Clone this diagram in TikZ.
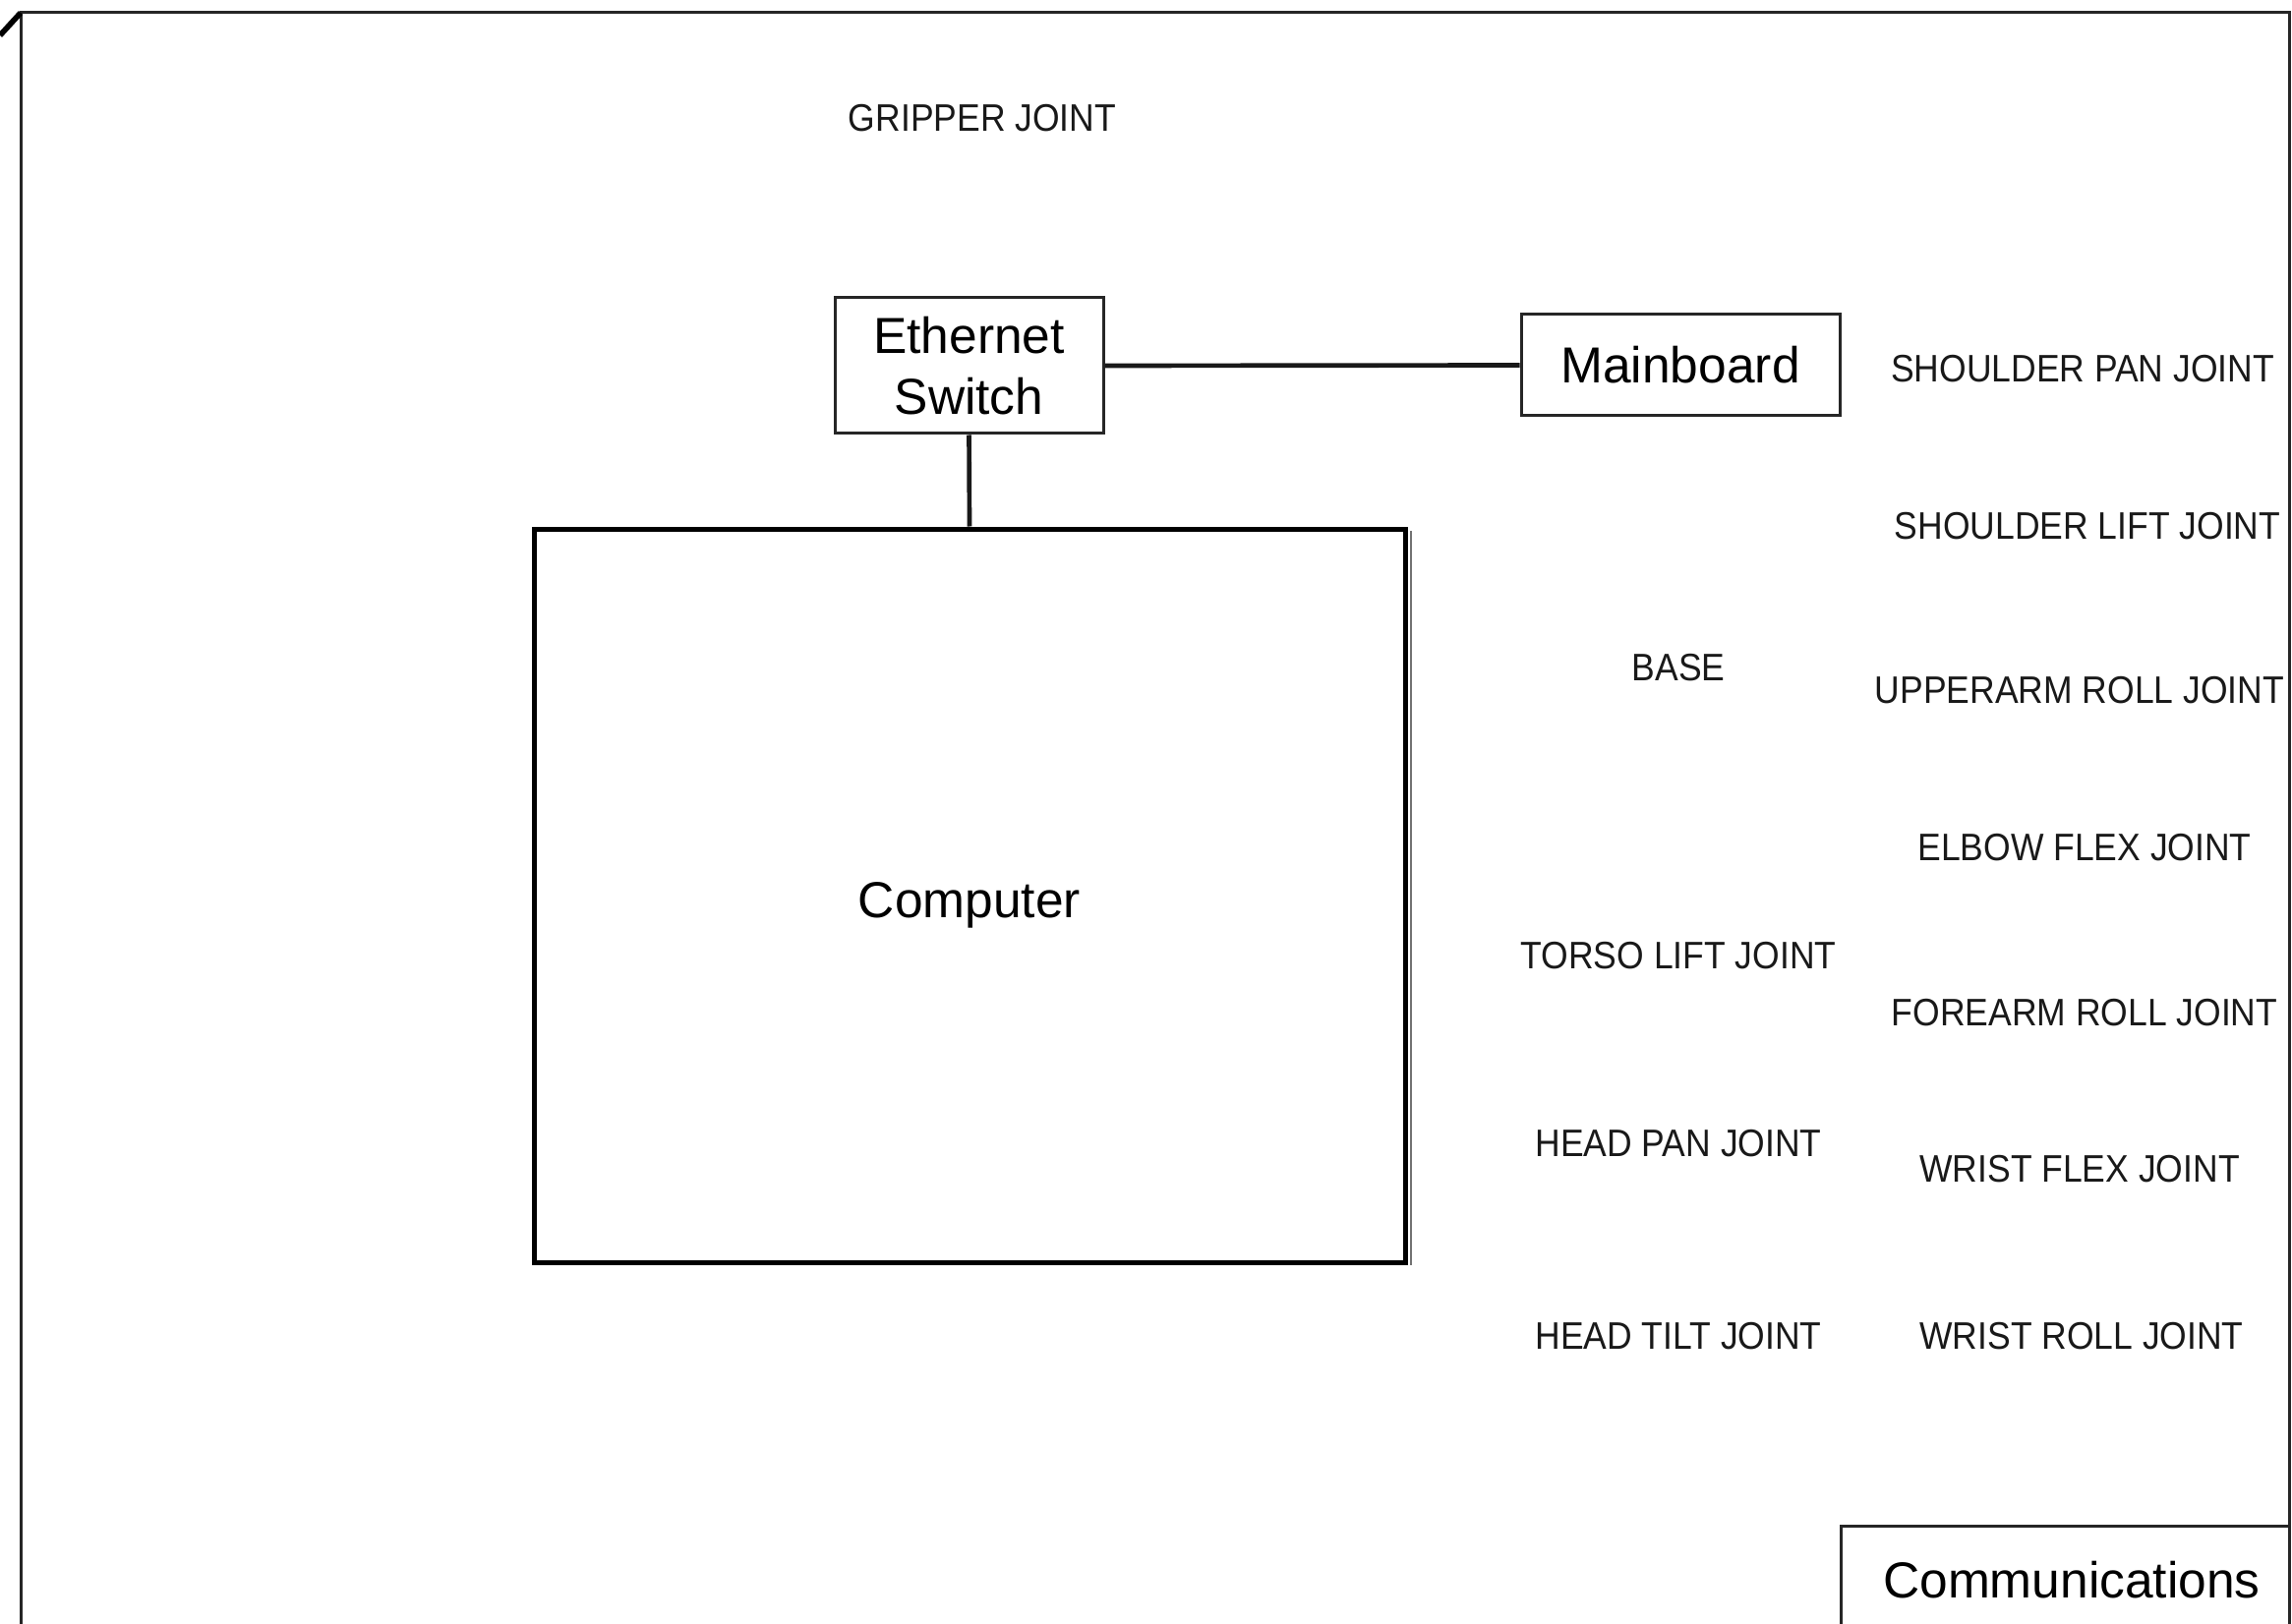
\documentclass[tikz,border=0pt]{standalone}
\usepackage{fontspec}
\setmainfont{Liberation Sans}
\newfontfamily\jointfont[FakeStretch=0.91]{Liberation Sans}
\begin{document}
\begin{tikzpicture}[x=0.3pt,y=-0.3pt,
  boxtext/.style={font=\fontsize{15.45pt}{18.5pt}\selectfont, align=center, inner sep=0pt},
  unitbox/.style={draw=black!85, line width=0.9pt, boxtext},
  jointlbl/.style={font=\jointfont\fontsize{11.7pt}{14pt}\selectfont, text=black!90, inner sep=0pt},
  link/.style={draw=black!90, line width=1.4pt}]
\useasboundingbox (0,0) rectangle (2331,1652);
\fill[white] (0,0) rectangle (2331,1652);
\begin{scope}
\clip (0,0) rectangle (2331,1652);
% outer frame
\coordinate (fbl) at (21,1700);
\coordinate (ftl) at (21,13);
\coordinate (ftr) at (2328,13);
\coordinate (fbr) at (2328,1700);
\draw[black!85, line width=0.9pt] (fbl) -- (ftl) -- (ftr) -- (fbr);
\coordinate (dstart) at (0,36);
\draw[black, line width=1.7pt] (dstart) -- (ftl);
% communications box (runs off the page)
\node[draw=black!85, line width=0.9pt, minimum width=456*0.3pt, minimum height=200*0.3pt, inner sep=0pt] (comm) at (2100,1652) {};
\end{scope}
\node[boxtext] (commlbl) at (2107,1607) {Communications};
% boxes
\node[unitbox, minimum width=273*0.3pt, minimum height=138*0.3pt] (sw) at (985.5,372) {Ethernet\\Switch};
\node[unitbox, minimum width=324*0.3pt, minimum height=103*0.3pt] (mb) at (1709,371.5) {Mainboard};
\node[draw=black, line width=1.5pt, minimum width=886*0.3pt, minimum height=746*0.3pt, boxtext] (comp) at (986,911) {};
\node[boxtext] (complbl) at (986,921) {Computer};
\coordinate (shtop) at (1435,540);
\coordinate (shbot) at (1435,1287);
\draw[black!55, line width=0.5pt] (shtop) -- (shbot);
% connectors
\draw[link] (sw.south) -- (comp.north);
\draw[link] (sw.east) -- (mb.west);
% joint labels
\node[jointlbl] (grip) at (999,120) {GRIPPER JOINT};
\node[jointlbl] (spj) at (2118,375) {SHOULDER PAN JOINT};
\node[jointlbl] (slj) at (2123,535) {SHOULDER LIFT JOINT};
\node[jointlbl] (base) at (1707,679) {BASE};
\node[jointlbl] (urj) at (2115,702) {UPPERARM ROLL JOINT};
\node[jointlbl] (efj) at (2120,862) {ELBOW FLEX JOINT};
\node[jointlbl] (tlj) at (1707,972) {TORSO LIFT JOINT};
\node[jointlbl] (frj) at (2120,1030) {FOREARM ROLL JOINT};
\node[jointlbl] (hpj) at (1707,1163) {HEAD PAN JOINT};
\node[jointlbl] (wfj) at (2115,1189) {WRIST FLEX JOINT};
\node[jointlbl] (htj) at (1707,1359) {HEAD TILT JOINT};
\node[jointlbl] (wrj) at (2117,1359) {WRIST ROLL JOINT};
\end{tikzpicture}
\end{document}
